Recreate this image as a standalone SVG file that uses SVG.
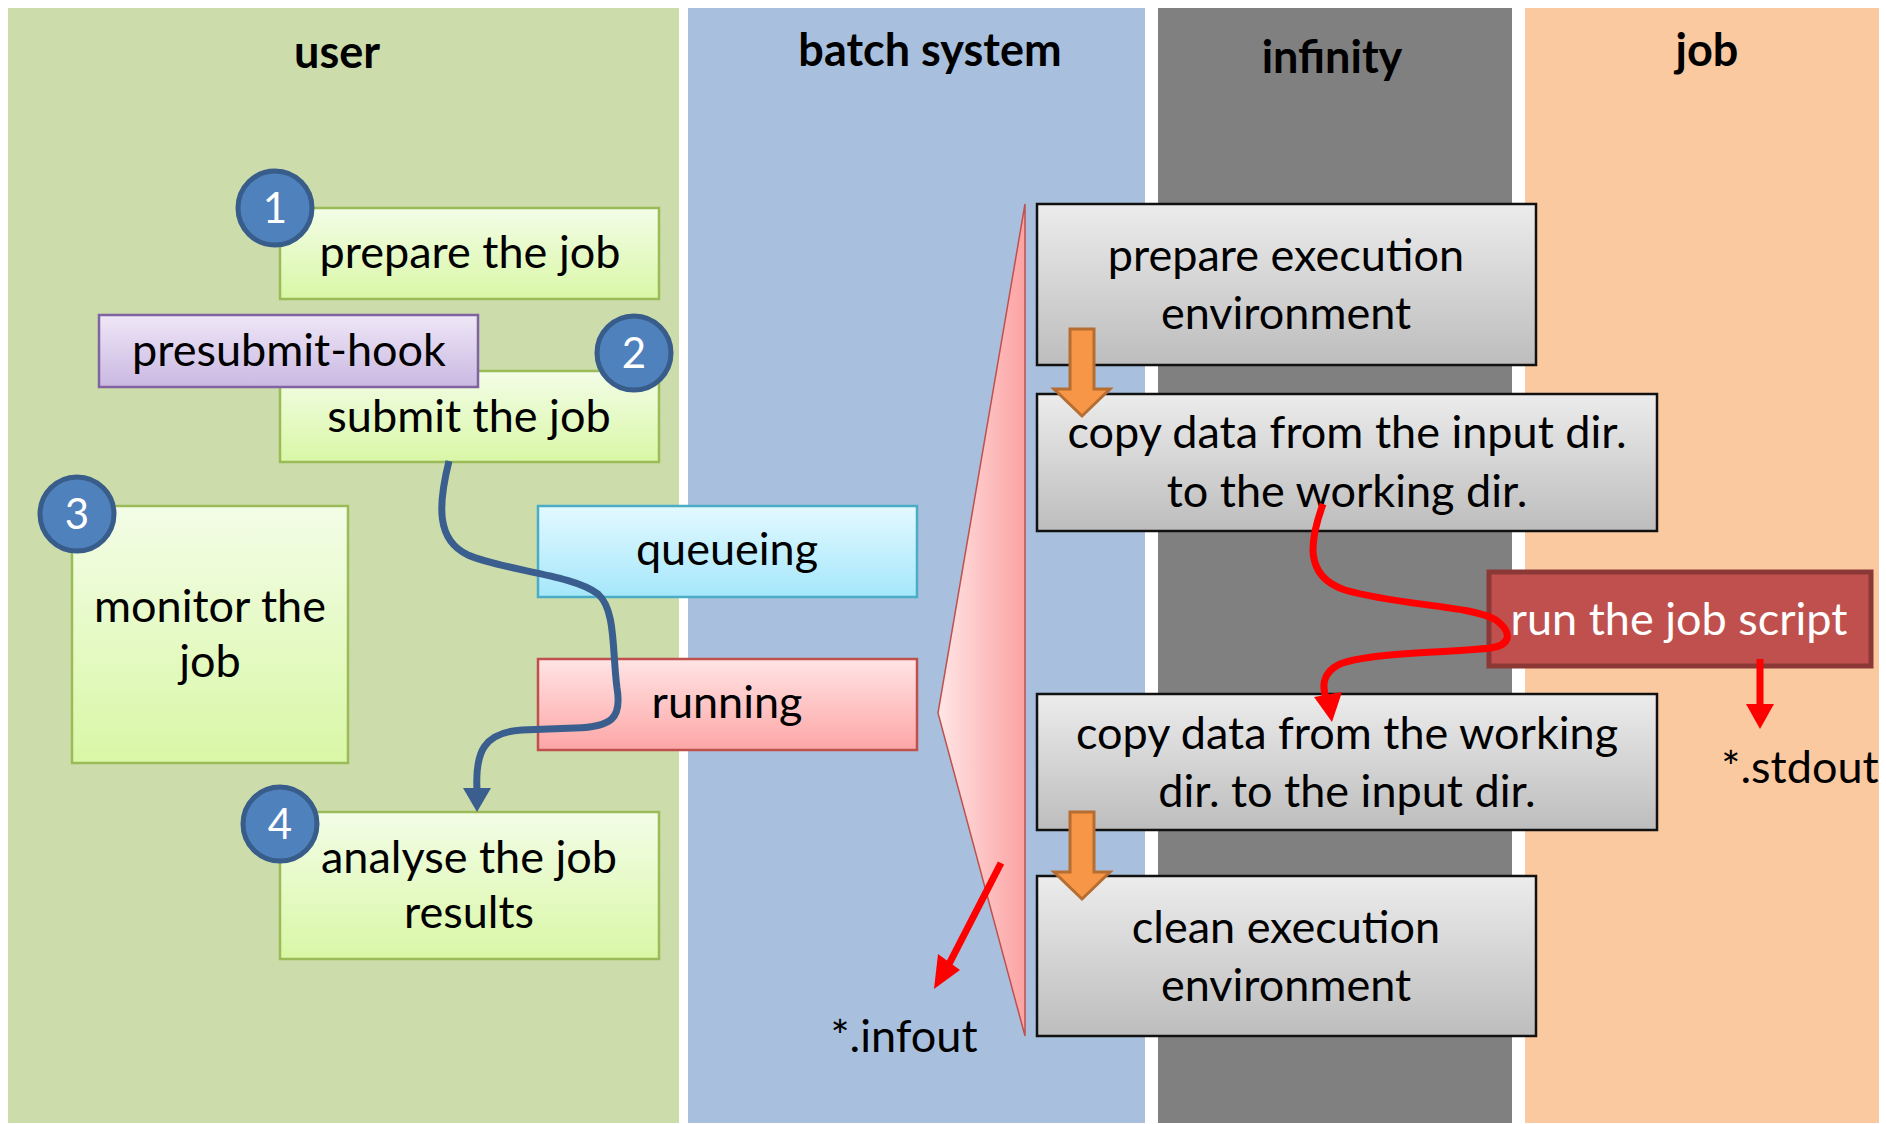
<svg xmlns="http://www.w3.org/2000/svg" width="1886" height="1124" viewBox="0 0 1886 1124">
  <defs>
    <linearGradient id="gGreen" x1="0" y1="0" x2="0" y2="1">
      <stop offset="0" stop-color="#f3fde7"/>
      <stop offset="1" stop-color="#d9f7a6"/>
    </linearGradient>
    <linearGradient id="gPurple" x1="0" y1="0" x2="0" y2="1">
      <stop offset="0" stop-color="#efe7f7"/>
      <stop offset="1" stop-color="#cab8e2"/>
    </linearGradient>
    <linearGradient id="gCyan" x1="0" y1="0" x2="0" y2="1">
      <stop offset="0" stop-color="#e3f9ff"/>
      <stop offset="1" stop-color="#a5e7fb"/>
    </linearGradient>
    <linearGradient id="gPink" x1="0" y1="0" x2="0" y2="1">
      <stop offset="0" stop-color="#ffe4e4"/>
      <stop offset="1" stop-color="#fda6a6"/>
    </linearGradient>
    <linearGradient id="gGray" x1="0" y1="0" x2="0" y2="1">
      <stop offset="0" stop-color="#ececec"/>
      <stop offset="1" stop-color="#bdbdbd"/>
    </linearGradient>
    <linearGradient id="gWedge" x1="0" y1="0" x2="1" y2="0">
      <stop offset="0" stop-color="#ffe6e6"/>
      <stop offset="1" stop-color="#fca2a2"/>
    </linearGradient>
    <style>
      text { font-family: Lato, "Liberation Sans", sans-serif; font-size: 45px; fill: #000; text-anchor: middle; }
      .title { font-weight: bold; }
      .num { fill: #fff; font-size: 42px; }
      .white { fill: #fff; }
      .lane-user { fill: #cddcab; }
      .lane-batch { fill: #a8c0de; }
      .lane-inf { fill: #808080; }
      .lane-job { fill: #fac9a0; }
      .green { fill: url(#gGreen); stroke: #9bbb59; stroke-width: 2.5; }
      .purple { fill: url(#gPurple); stroke: #8064a2; stroke-width: 2.5; }
      .cyan { fill: url(#gCyan); stroke: #4bacc6; stroke-width: 2.5; }
      .pink { fill: url(#gPink); stroke: #c0504d; stroke-width: 2.5; }
      .gray { fill: url(#gGray); stroke: #111; stroke-width: 2.5; }
      .badge { fill: #4f81bd; stroke: #385d8a; stroke-width: 5; }
      .block { fill: #f79646; stroke: #b66d31; stroke-width: 3; }
      .blue-line { fill: none; stroke: #3a5f8f; stroke-width: 7; }
      .red-line { fill: none; stroke: #ff0000; stroke-width: 7; }
    </style>
  </defs>

  <rect width="1886" height="1124" fill="#fff"/>

  <!-- swim lanes -->
  <g id="lanes">
    <rect class="lane-user" x="8" y="8" width="671" height="1115"/>
    <rect class="lane-batch" x="688" y="8" width="457" height="1115"/>
    <rect class="lane-inf" x="1158" y="8" width="354" height="1115"/>
    <rect class="lane-job" x="1525" y="8" width="354" height="1115"/>
    <text class="title" x="337" y="68">user</text>
    <text class="title" x="930" y="66">batch system</text>
    <text class="title" x="1332" y="73">infinity</text>
    <text class="title" x="1707" y="66">job</text>
  </g>

  <!-- user lane -->
  <g id="prepare-job">
    <rect class="green" x="280" y="208" width="379" height="91"/>
    <text x="470" y="268">prepare the job</text>
  </g>
  <g id="step-1">
    <circle class="badge" cx="275" cy="208" r="37"/>
    <text class="num" x="275" y="223">1</text>
  </g>

  <g id="submit-job">
    <rect class="green" x="280" y="371" width="379" height="91"/>
    <text x="469" y="432">submit the job</text>
  </g>
  <g id="presubmit-hook">
    <rect class="purple" x="99" y="315" width="379" height="72"/>
    <text x="289" y="366">presubmit-hook</text>
  </g>
  <g id="step-2">
    <circle class="badge" cx="634" cy="353" r="37"/>
    <text class="num" x="634" y="368">2</text>
  </g>

  <g id="monitor-job">
    <rect class="green" x="72" y="506" width="276" height="257"/>
    <text x="210" y="622">monitor the</text>
    <text x="210" y="677">job</text>
  </g>
  <g id="step-3">
    <circle class="badge" cx="77" cy="514" r="37"/>
    <text class="num" x="77" y="529">3</text>
  </g>

  <g id="analyse-results">
    <rect class="green" x="280" y="812" width="379" height="147"/>
    <text x="469" y="873">analyse the job</text>
    <text x="469" y="928">results</text>
  </g>
  <g id="step-4">
    <circle class="badge" cx="280" cy="824" r="37"/>
    <text class="num" x="280" y="839">4</text>
  </g>

  <!-- batch system lane -->
  <g id="queueing">
    <rect class="cyan" x="538" y="506" width="379" height="91"/>
    <text x="727" y="565">queueing</text>
  </g>
  <g id="running">
    <rect class="pink" x="538" y="659" width="379" height="91"/>
    <text x="727" y="718">running</text>
  </g>
  <g id="running-span">
    <polygon points="1025,204 938,713 1025,1036" fill="url(#gWedge)" stroke="#c0504d" stroke-width="1.5"/>
  </g>
  <g id="infout">
    <text x="904" y="1052">*.infout</text>
  </g>

  <!-- infinity lane -->
  <g id="prepare-env">
    <rect class="gray" x="1037" y="204" width="499" height="161"/>
    <text x="1286" y="271">prepare execution</text>
    <text x="1286" y="329">environment</text>
  </g>
  <g id="copy-in">
    <rect class="gray" x="1037" y="394" width="620" height="137"/>
    <text x="1347" y="448">copy data from the input dir.</text>
    <text x="1347" y="507">to the working dir.</text>
  </g>
  <g id="copy-out">
    <rect class="gray" x="1037" y="694" width="620" height="136"/>
    <text x="1347" y="749">copy data from the working</text>
    <text x="1347" y="807">dir. to the input dir.</text>
  </g>
  <g id="clean-env">
    <rect class="gray" x="1037" y="876" width="499" height="160"/>
    <text x="1286" y="943">clean execution</text>
    <text x="1286" y="1001">environment</text>
  </g>

  <!-- job lane -->
  <g id="run-script">
    <rect x="1489" y="572" width="382" height="94" fill="#c0504d" stroke="#8c3836" stroke-width="5"/>
    <text class="white" x="1679" y="635">run the job script</text>
  </g>
  <g id="stdout">
    <text x="1800" y="783">*.stdout</text>
  </g>

  <!-- connectors -->
  <g id="connectors">
    <path class="blue-line" d="M449,461 C438,505 436,540 468,555 C505,571 572,574 598,594 C616,610 612,650 617,688 C622,718 612,727 575,728 L522,730 C484,732 475,752 477,790"/>
    <polygon points="463,788 491,788 477,812" fill="#3a5f8f"/>

    <polygon class="block" points="1070,329 1094,329 1094,389 1110,389 1082,416 1054,389 1070,389"/>
    <polygon class="block" points="1070,812 1094,812 1094,872 1110,872 1082,899 1054,872 1070,872"/>

    <path class="red-line" d="M1323,504 C1310,540 1303,576 1345,590 C1400,606 1470,605 1496,620 C1512,632 1512,645 1490,648 C1450,653 1370,652 1340,664 C1321,673 1322,688 1327,700"/>
    <polygon points="1314,697 1342,692 1332,722" fill="#ff0000"/>

    <line class="red-line" x1="1760" y1="659" x2="1760" y2="706"/>
    <polygon points="1746,704 1774,704 1760,729" fill="#ff0000"/>

    <line class="red-line" x1="1001" y1="863" x2="948" y2="966"/>
    <polygon points="938,954 960,970 934,989" fill="#ff0000"/>
  </g>
</svg>
